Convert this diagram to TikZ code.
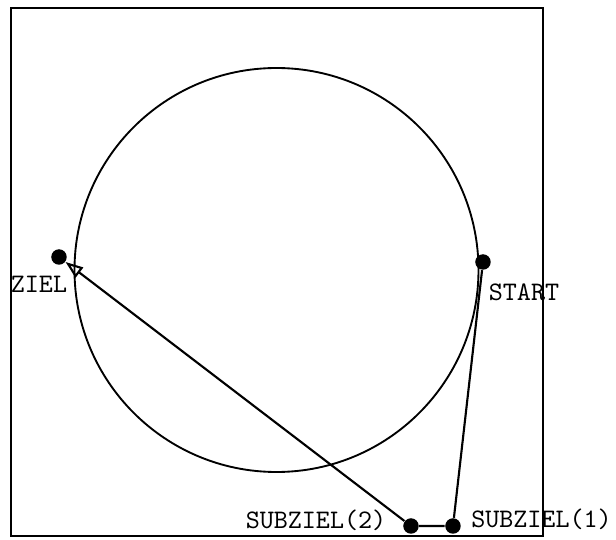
\documentclass[tikz,border=0pt]{standalone}
\usetikzlibrary{arrows.meta}

\begin{document}
\begin{tikzpicture}[x=0.4pt,y=-0.4pt,
  dot/.style={circle,fill=black,inner sep=0pt,minimum size=6.2pt},
  lbl/.style={inner sep=0pt,font=\fontsize{10.7}{12}\selectfont\ttfamily}]
  % canvas 616 x 540 px, y downwards
  \useasboundingbox (0,0) rectangle (616,540);
  \draw[line width=0.85pt] (11,8) rectangle (543,536);
  \draw[line width=0.75pt] (276.5,270) circle[radius=80.8pt];
  \node[dot] (ziel) at (59,257) {};
  \node[dot] (start) at (483,262) {};
  \node[dot] (sub1) at (453,526) {};
  \node[dot] (sub2) at (411,526) {};
  \node[lbl] (zielL) at (39,284) {ZIEL};
  \node[lbl] (startL) at (524,292.5) {START};
  \node[lbl] (sub1L) at (541.5,519.5) {SUBZIEL(1)};
  \node[lbl] (sub2L) at (316,520.5) {SUBZIEL(2)};
  \draw[line width=0.85pt] (start) -- (sub1) -- (sub2);
  \draw[line width=0.85pt,-{Triangle[open,length=7pt,width=5pt]}] (sub2) -- (ziel);
\end{tikzpicture}
\end{document}
